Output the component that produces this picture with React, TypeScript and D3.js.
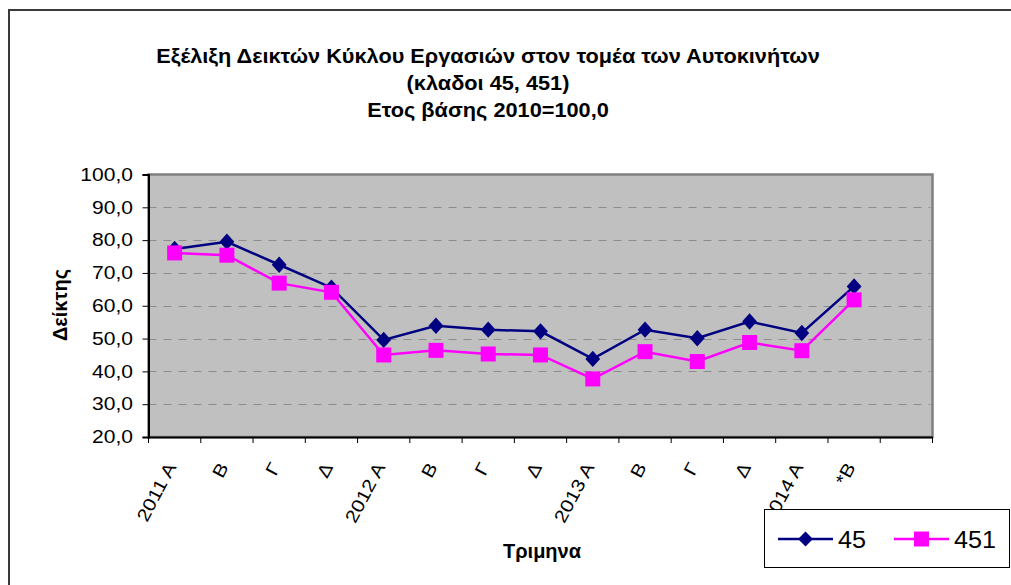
import * as d3 from "d3";
import { useRef, useEffect } from "react";

// categories (quarters)
const quarters: string[] = [
  "2011 A", "B", "Γ", "Δ",
  "2012 A", "B", "Γ", "Δ",
  "2013 A", "B", "Γ", "Δ",
  "2014 A", "*B", "",
];

const series45: number[] = [77.3, 79.5, 72.5, 65.5, 49.6, 53.9, 52.7, 52.2, 43.8, 52.7, 50.1, 55.2, 51.7, 65.9];
const series451: number[] = [76.1, 75.4, 66.9, 64.1, 45.0, 46.4, 45.3, 45.0, 37.7, 46.0, 43.0, 48.8, 46.3, 61.8];

const yTicks: number[] = [20, 30, 40, 50, 60, 70, 80, 90, 100];

const titleLines: string[] = [
  "Εξέλιξη Δεικτών Κύκλου Εργασιών στον τομέα των Αυτοκινήτων",
  "(κλαδοι 45, 451)",
  "Ετος βάσης 2010=100,0",
];

const FONT = "Arial, 'Liberation Sans', sans-serif";

export default function App() {
  const svgRef: any = useRef();

  useEffect(() => {
    const w = 1011;
    const h = 585;
    const svg = d3.select(svgRef.current);
    svg.selectAll("*").remove();

    const left = 148.5;
    const right = 932.5;
    const top = 174.5;
    const bottom = 437;

    // outer chart border
    svg
      .append("rect")
      .attr("x", 9)
      .attr("y", 10)
      .attr("width", w + 10)
      .attr("height", h + 10)
      .attr("fill", "white")
      .attr("stroke", "#3a3a3a")
      .attr("stroke-width", 2);

    // title
    svg
      .append("g")
      .selectAll("text")
      .data(titleLines)
      .join("text")
      .attr("transform", (d, i) => `translate(488, ${63 + i * 27}) scale(1.035, 1)`)
      .attr("text-anchor", "middle")
      .style("font-family", FONT)
      .style("font-weight", "bold")
      .style("font-size", "21px")
      .text((d) => d);

    // scales
    const xScale: any = d3.scaleBand().domain(quarters.map((d, i) => String(i))).range([left, right]);
    const yScale: any = d3.scaleLinear().domain([20, 100]).range([bottom, top]);
    const cx = (i: number) => xScale(String(i)) + xScale.bandwidth() / 2;

    // plot area
    svg
      .append("rect")
      .attr("x", left)
      .attr("y", top)
      .attr("width", right - left)
      .attr("height", bottom - top)
      .attr("fill", "#c0c0c0")
      .attr("stroke", "#808080")
      .attr("stroke-width", 2.5);

    // gridlines
    svg
      .append("g")
      .selectAll("line")
      .data(yTicks.filter((t) => t > 20 && t < 100))
      .join("line")
      .attr("x1", left)
      .attr("x2", right - 2)
      .attr("y1", (d) => Math.round(yScale(d)) + 0.5)
      .attr("y2", (d) => Math.round(yScale(d)) + 0.5)
      .attr("stroke", "#8c8c8c")
      .attr("stroke-dasharray", "8,7");

    // y axis
    const yAxis = d3
      .axisLeft(yScale)
      .tickValues(yTicks)
      .tickSize(6)
      .tickFormat(() => "");
    const gy = svg.append("g").attr("transform", `translate(${left}, 0)`).call(yAxis);
    gy.select(".domain").attr("stroke", "#000").attr("stroke-width", 2);
    gy.selectAll(".tick line").attr("stroke", "#000");
    svg
      .append("g")
      .selectAll("text")
      .data(yTicks)
      .join("text")
      .attr("transform", (d) => `translate(133, ${yScale(d)}) scale(1.17, 1)`)
      .attr("text-anchor", "end")
      .attr("dy", "0.35em")
      .style("font-family", FONT)
      .style("font-size", "18px")
      .text((d) => d3.format(".1f")(d).replace(".", ","));

    // x axis
    const xAxis = d3.axisBottom(xScale).tickSize(0).tickFormat(() => "");
    const gx = svg.append("g").attr("transform", `translate(0, ${bottom})`).call(xAxis);
    gx.select(".domain").attr("stroke", "#000").attr("stroke-width", 2);
    // tick marks at category boundaries
    svg
      .append("g")
      .selectAll("line")
      .data(d3.range(quarters.length + 1))
      .join("line")
      .attr("x1", (d) => left + d * xScale.step())
      .attr("x2", (d) => left + d * xScale.step())
      .attr("y1", bottom)
      .attr("y2", bottom + 6)
      .attr("stroke", "#000");
    // rotated labels
    svg
      .append("g")
      .selectAll("text")
      .data(quarters)
      .join("text")
      .attr("transform", (d, i) => `translate(${cx(i) - 3.5}, ${bottom + 27}) rotate(-62) scale(1.16, 1)`)
      .attr("text-anchor", "end")
      .attr("dy", "0.35em")
      .style("font-family", FONT)
      .style("font-size", "18px")
      .text((d) => d);

    // axis titles
    svg
      .append("text")
      .attr("transform", `translate(67, 305) rotate(-90)`)
      .attr("text-anchor", "middle")
      .style("font-family", FONT)
      .style("font-weight", "bold")
      .style("font-size", "20px")
      .text("Δείκτης");
    svg
      .append("text")
      .attr("x", 542)
      .attr("y", 558)
      .attr("text-anchor", "middle")
      .style("font-family", FONT)
      .style("font-weight", "bold")
      .style("font-size", "20px")
      .text("Τριμηνα");

    // lines
    const line = d3
      .line<number>()
      .x((d, i) => cx(i))
      .y((d) => yScale(d));

    svg
      .append("path")
      .attr("d", line(series45))
      .attr("fill", "none")
      .attr("stroke", "#000080")
      .attr("stroke-width", 2.5);
    svg
      .append("path")
      .attr("d", line(series451))
      .attr("fill", "none")
      .attr("stroke", "#ff00ff")
      .attr("stroke-width", 2.5);

    const diamond = d3.symbol().type(d3.symbolDiamond2).size(140);
    const square = d3.symbol().type(d3.symbolSquare).size(225);

    svg
      .append("g")
      .selectAll("path")
      .data(series45)
      .join("path")
      .attr("transform", (d, i) => `translate(${cx(i)}, ${yScale(d)}) scale(1, 1.1)`)
      .attr("d", diamond as any)
      .attr("fill", "#000080");
    svg
      .append("g")
      .selectAll("path")
      .data(series451)
      .join("path")
      .attr("transform", (d, i) => `translate(${cx(i)}, ${yScale(d)})`)
      .attr("d", square as any)
      .attr("fill", "#ff00ff");

    // legend
    const lg = svg.append("g");
    lg.append("rect")
      .attr("x", 764.5)
      .attr("y", 509.5)
      .attr("width", 245)
      .attr("height", 58)
      .attr("fill", "white")
      .attr("stroke", "#000")
      .attr("stroke-width", 1);
    const legendItems = [
      { label: "45", color: "#000080", sym: diamond, x: 778 },
      { label: "451", color: "#ff00ff", sym: square, x: 894 },
    ];
    legendItems.forEach((it) => {
      lg.append("line")
        .attr("x1", it.x)
        .attr("x2", it.x + 55)
        .attr("y1", 539)
        .attr("y2", 539)
        .attr("stroke", it.color)
        .attr("stroke-width", 2.5);
      lg.append("path")
        .attr("transform", `translate(${it.x + 27.5}, 539)`)
        .attr("d", it.sym as any)
        .attr("fill", it.color);
      lg.append("text")
        .attr("transform", `translate(${it.x + 60}, 548) scale(1.05, 1)`)
        .style("font-family", FONT)
        .style("font-size", "24px")
        .text(it.label);
    });
  }, []);

  return (
    <svg
      ref={svgRef}
      width={1011}
      height={585}
      style={{ position: "absolute", left: 0, top: 0, display: "block", background: "white" }}
    ></svg>
  );
}
